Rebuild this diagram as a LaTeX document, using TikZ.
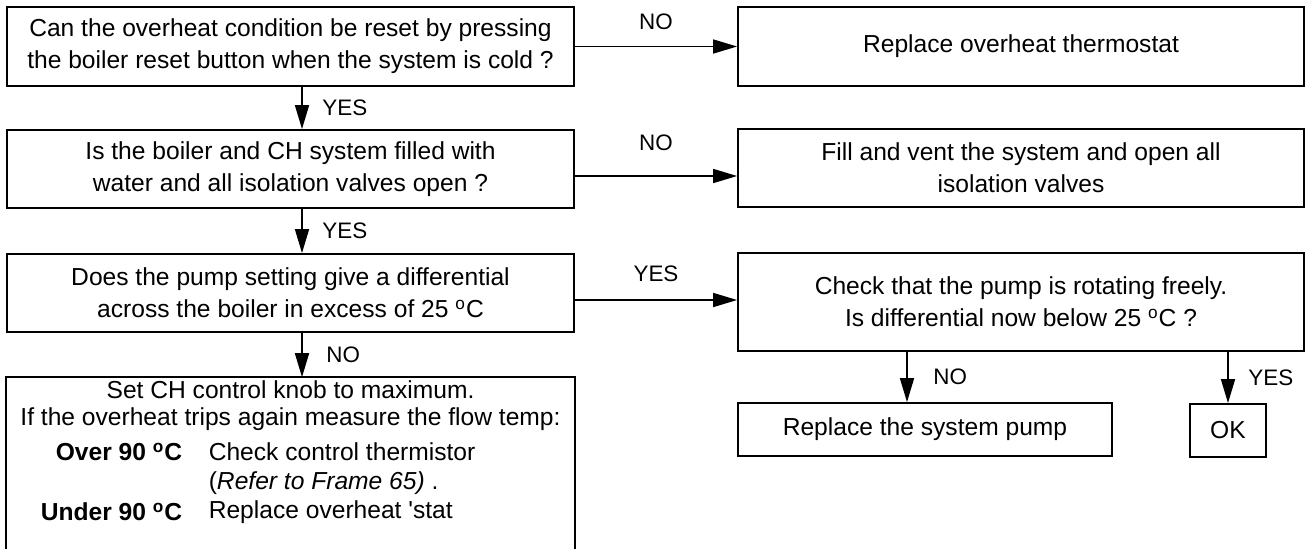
\documentclass[tikz,border=0pt]{standalone}
\usepackage{fontspec}
\setmainfont{Liberation Sans}
\usetikzlibrary{arrows.meta,positioning,calc}

\begin{document}
\begin{tikzpicture}[
    x=0.5pt, y=-0.5pt,
    >={Triangle[length=12pt,width=7pt]}, line width=0.8pt,
    box/.style={rectangle, draw, line width=0.9pt, minimum width=283.5pt, inner sep=0pt, align=center, font=\fontsize{12.3}{16}\selectfont},
    txt/.style={inner sep=0pt, font=\fontsize{12.3}{16}\selectfont},
    lbl/.style={font=\fontsize{11.2}{13}\selectfont},
    flow/.style={->}
]
    \useasboundingbox (0,0) rectangle (1311,548);

    % Left column
    \node[box, minimum height=39.5pt] (q1) at (290.5,46.5) {Can the overheat condition be reset by pressing\\the boiler reset button when the system is cold ?};
    \node[box, minimum height=39pt] (q2) at (290.5,169) {Is the boiler and CH system filled with\\water and all isolation valves open ?};
    \node[box, minimum height=39pt] (q3) at (290.5,293) {Does the pump setting give a differential\\across the boiler in excess of 25 \textsuperscript{o}C};
    \node[minimum width=283.5pt, minimum height=100pt, inner sep=0pt] (fix) at (290.5,478) {};
    \draw[line width=0.9pt] (fix.south west) |- (fix.north east) -- (fix.south east);

    % Text of the last box
    \node[txt] (fixa) at (290.5,390) {Set CH control knob to maximum.};
    \node[txt] (fixb) at (290.5,419) {If the overheat trips again measure the flow temp:};
    \node[txt, anchor=east] (over) at (183,452) {\textbf{Over 90 \textsuperscript{o}C}};
    \node[txt, anchor=west] (overa) at (208,452) {Check control thermistor};
    \node[txt, anchor=west] (overb) at (208,483) {(\textit{Refer to Frame 65)} .};
    \node[txt, anchor=east] (under) at (183,512) {\textbf{Under 90 \textsuperscript{o}C}};
    \node[txt, anchor=west] (undera) at (208,512) {Replace overheat \textquotesingle stat};

    % Right column
    \node[box, minimum width=283pt, minimum height=39.5pt] (a1) at (1021,46.5) {Replace overheat thermostat};
    \node[box, minimum width=283pt, minimum height=39pt] (a2) at (1021,168) {Fill and vent the system and open all\\isolation valves};
    \node[box, minimum width=283pt, minimum height=49pt] (chk) at (1021,302) {Check that the pump is rotating freely.\\Is differential now below 25 \textsuperscript{o}C ?};
    \node[box, minimum width=187pt, minimum height=26.5pt] (pump) at (925,429.5) {Replace the system pump};
    \node[box, minimum width=38pt, minimum height=26.5pt] (ok) at (1228,430.5) {OK};

    % Connectors
    \draw[flow] (q1.east) -- (q1.east -| a1.west) node[lbl, midway, above=4.5pt] {NO};
    \draw[flow] ([yshift=-3.5pt]q2.east) coordinate (q2out) -- (q2out -| a2.west) node[lbl, midway, above=9pt] {NO};
    \draw[flow] ([yshift=-3.5pt]q3.east) coordinate (q3out) -- (q3out -| chk.west) node[lbl, midway, above=5.5pt] {YES};

    \draw[flow] ([xshift=5.75pt]q1.south) -- ([xshift=5.75pt]q2.north) node[lbl, midway, right=6.5pt] {YES};
    \draw[flow] ([xshift=5.75pt]q2.south) -- ([xshift=5.75pt]q3.north) node[lbl, midway, right=6.5pt] {YES};
    \draw[flow] ([xshift=5.75pt]q3.south) -- ([xshift=5.75pt]fix.north) node[lbl, midway, right=8.5pt] {NO};

    \coordinate (nodrop) at ([xshift=-9pt]pump.north);
    \draw[flow] (nodrop |- chk.south) -- (nodrop) node[lbl, midway, right=9.5pt] {NO};
    \draw[flow] (ok.north |- chk.south) -- (ok.north) node[lbl, midway, right=6.5pt] {YES};
\end{tikzpicture}
\end{document}
